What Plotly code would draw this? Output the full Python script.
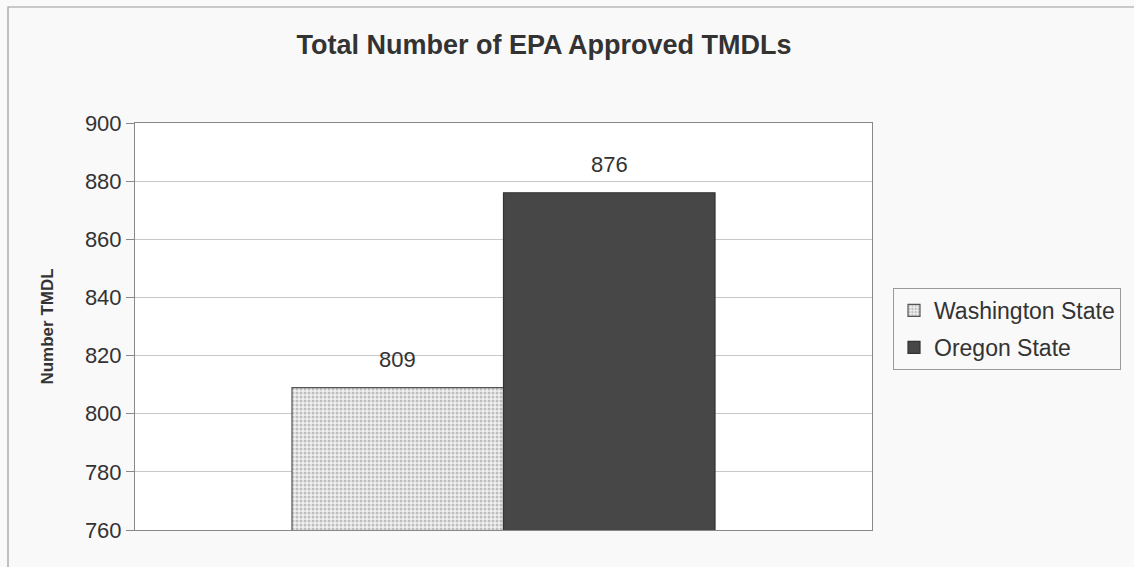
import plotly.graph_objects as go

categories = ["TMDLs"]
series_names = ["Washington State", "Oregon State"]
washington_values = [809]
oregon_values = [876]
y_ticks = [760, 780, 800, 820, 840, 860, 880, 900]

FONT = "Liberation Sans, Arial, sans-serif"
BARGAP = 0.426

fig = go.Figure()
fig.add_trace(go.Bar(
    x=categories, y=washington_values, name=series_names[0], legendgroup="wa",
    marker=dict(color="#eeeeee", line=dict(color="#555555", width=1.2),
                pattern=dict(shape=".", fgcolor="#8a8a8a", bgcolor="#f0f0f0", size=4, solidity=0.45)),
))
fig.add_trace(go.Bar(
    x=categories, y=oregon_values, name=series_names[1], legendgroup="or",
    marker=dict(color="#474747", line=dict(color="#333333", width=1.2)),
))

# value labels above bars (centered on each bar of the group)
half = (1 - BARGAP) / 4
for vals, off in [(washington_values, -half), (oregon_values, half)]:
    fig.add_annotation(x=0 + off, y=vals[0], text=str(vals[0]), showarrow=False,
                       yshift=28, font=dict(family=FONT, size=22, color="#333333"),
                       xref="x", yref="y")

W, H = 1134, 567
ml, mr, mt, mb = 135, 262, 123, 37
pw, ph = W - ml - mr, H - mt - mb

def px_x(x):
    return (x - ml) / pw

def px_y(y):
    return (H - mb - y) / ph

fig.add_shape(type="rect", xref="paper", yref="paper",
              x0=px_x(8), x1=px_x(1140), y0=px_y(572), y1=px_y(7),
              line=dict(color="#9a9a9a", width=1.2), fillcolor="rgba(0,0,0,0)", layer="below")

fig.update_layout(
    width=W, height=H,
    margin=dict(l=ml, r=mr, t=mt, b=mb),
    paper_bgcolor="#f9f9f9",
    plot_bgcolor="#ffffff",
    barmode="group",
    bargap=BARGAP,
    bargroupgap=0,
    title=dict(text="<b>Total Number of EPA Approved TMDLs</b>", x=544 / W, xanchor="center",
               y=1 - 45 / H, yanchor="middle",
               font=dict(family=FONT, size=27, color="#333333")),
    font=dict(family=FONT, color="#333333"),
    showlegend=True,
    legend=dict(x=px_x(893), y=px_y(288), xanchor="left", yanchor="top",
                bordercolor="#9a9a9a", borderwidth=1, bgcolor="#f9f9f9",
                font=dict(family=FONT, size=23, color="#333333"),
                itemwidth=30, tracegroupgap=4),
    xaxis=dict(showticklabels=False, ticks="", showline=True, linecolor="#888888",
               mirror=True, linewidth=1),
    yaxis=dict(range=[760, 900], tickvals=y_ticks, ticks="outside", ticklen=8,
               tickcolor="#888888", showline=True, linecolor="#888888", linewidth=1,
               mirror=True, gridcolor="#c8c8c8", gridwidth=1,
               tickfont=dict(family=FONT, size=22, color="#333333"),
               title=dict(text="<b>Number TMDL</b>", font=dict(family=FONT, size=17, color="#333333"),
                          standoff=26)),
)

fig.write_html("out.html")
